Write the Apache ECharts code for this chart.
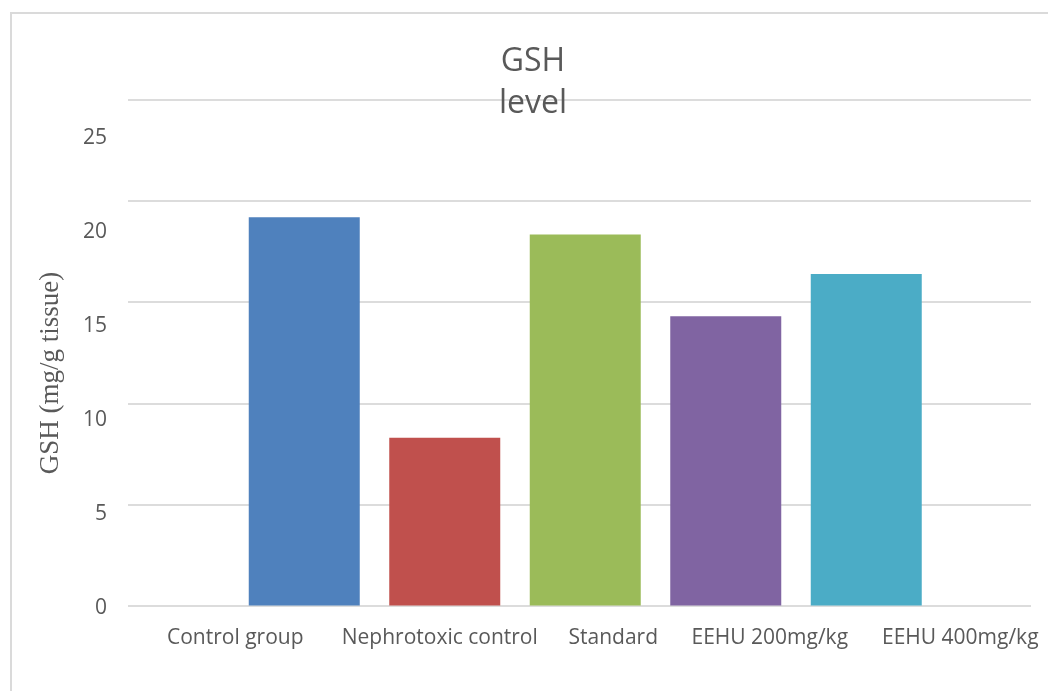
<!DOCTYPE html>
<html>
<head>
<meta charset="utf-8">
<script src="https://cdn.jsdelivr.net/npm/echarts@6/dist/echarts.min.js"></script>
<style>
  html, body { margin: 0; padding: 0; background: #fff; }
  #frame {
    position: absolute; left: 10px; top: 12px; width: 1038px; height: 679px;
    border-top: 2px solid #dadada; border-left: 2px solid #dadada; box-sizing: border-box;
  }
  #chart { position: absolute; left: 0; top: 0; width: 1048px; height: 691px; }
</style>
</head>
<body>
<div id="frame"></div>
<div id="chart"></div>
<script>
// Groups and their mean GSH content (mg/g tissue)
const categories = ['Control group', 'Nephrotoxic control', 'Standard', 'EEHU 200mg/kg', 'EEHU 400mg/kg'];
const gshValues = [19.2, 8.3, 18.35, 14.3, 16.4];

// Value axis range
const yMin = 0;
const yMax = 25;
const yStep = 5;

// Bar fill per group
const barColors = ['#4F81BD', '#C0504D', '#9BBB59', '#8064A2', '#4BACC6'];

// Horizontal nudge (px) of each category caption relative to its bar
const labelNudge = [-69, -5, 28, 44, 94];

const textColor = '#595959';
const labelFont = 'Open Sans';
const labelSize = 21;

const rich = {};
labelNudge.forEach(function (d, i) {
  rich['c' + i] = {
    fontFamily: labelFont, fontSize: labelSize, color: textColor,
    padding: d < 0 ? [0, -2 * d, 0, 0] : [0, 0, 0, 2 * d]
  };
});

const chart = echarts.init(document.getElementById('chart'), null, { renderer: 'canvas' });

chart.setOption({
  animation: false,
  title: {
    text: 'GSH\nlevel',
    left: 533,
    top: 41,
    padding: 0,
    textAlign: 'center',
    textStyle: {
      fontFamily: labelFont, fontSize: 32, fontWeight: 'normal',
      lineHeight: 42, color: textColor
    }
  },
  grid: [
    // gridline frame
    { left: 128, right: 17, top: 100, bottom: 85.5 },
    // bars
    { left: 234, right: 111.5, top: 100, bottom: 85.5 },
    // tick captions and axis title
    { left: 115, right: 17, top: 138, bottom: 83 }
  ],
  xAxis: [
    { gridIndex: 0, type: 'value', show: false, min: 0, max: 1 },
    {
      gridIndex: 1, type: 'category', data: categories,
      axisLine: { show: false }, axisTick: { show: false },
      axisLabel: {
        interval: 0, margin: 22,
        fontFamily: labelFont, fontSize: labelSize, color: textColor,
        formatter: function (v, i) { return '{c' + i + '|' + v + '}'; },
        rich: rich
      }
    },
    { gridIndex: 2, type: 'value', show: false, min: 0, max: 1 }
  ],
  yAxis: [
    {
      gridIndex: 0, type: 'value', min: yMin, max: yMax, interval: yStep,
      axisLine: { show: false }, axisTick: { show: false }, axisLabel: { show: false },
      splitLine: { show: true, lineStyle: { color: '#dcdcdc', width: 2 } }
    },
    {
      gridIndex: 1, type: 'value', min: yMin, max: yMax, interval: yStep,
      show: false, splitLine: { show: false }
    },
    {
      gridIndex: 2, type: 'value', min: yMin, max: yMax, interval: yStep,
      axisLine: { show: false }, axisTick: { show: false },
      splitLine: { show: false },
      axisLabel: {
        margin: 8, fontFamily: labelFont, fontSize: labelSize, color: textColor
      },
      name: 'GSH (mg/g tissue)',
      nameLocation: 'middle',
      nameRotate: 90,
      nameGap: 51,
      nameTextStyle: {
        fontFamily: 'Liberation Serif', fontSize: 27, color: textColor
      }
    }
  ],
  series: [{
    type: 'bar',
    xAxisIndex: 1,
    yAxisIndex: 1,
    barWidth: 111,
    data: gshValues.map(function (v, i) {
      return { value: v, itemStyle: { color: barColors[i] } };
    })
  }]
});
</script>
</body>
</html>
